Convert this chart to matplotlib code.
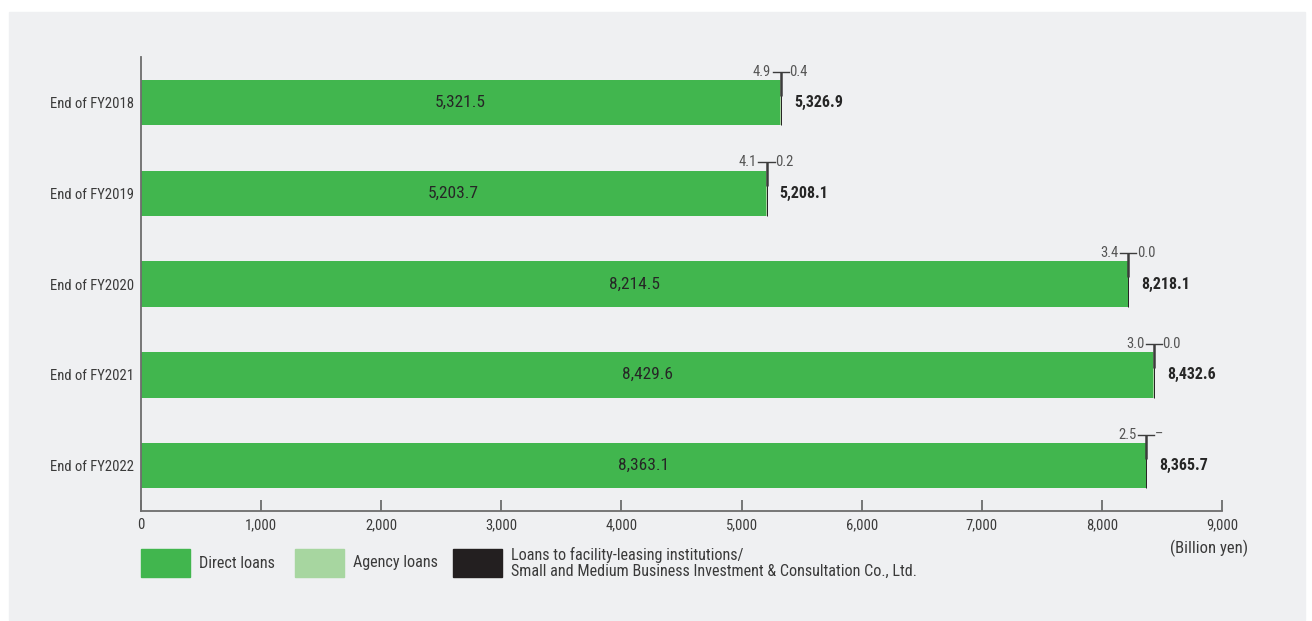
import matplotlib.pyplot as plt
from matplotlib.patches import Rectangle

# data (billion yen)
years = ['End of FY2018', 'End of FY2019', 'End of FY2020', 'End of FY2021', 'End of FY2022']
direct = [5321.5, 5203.7, 8214.5, 8429.6, 8363.1]
agency = [4.9, 4.1, 3.4, 3.0, 2.5]
facility = [0.4, 0.2, 0.0, 0.0, 0.0]
facility_lbl = ['0.4', '0.2', '0.0', '0.0', '\u2013']
totals = [5326.9, 5208.1, 8218.1, 8432.6, 8365.7]
xticks = [0, 1000, 2000, 3000, 4000, 5000, 6000, 7000, 8000, 9000]

GREEN = '#41b64e'
LIGHT = '#a7d6a0'
BLACK = '#231f20'
TXT = '#3a3a3a'
PANEL = '#eff0f2'

plt.rcParams['font.family'] = ['Roboto Condensed', 'Roboto', 'DejaVu Sans']

fig = plt.figure(figsize=(13.12, 6.21), dpi=100)
fig.patch.set_facecolor('white')
W, H = 1312, 621
fig.add_artist(Rectangle((9 / W, 1 - 620 / H), 1296 / W, 608 / H,
                         transform=fig.transFigure, color=PANEL, zorder=0))

ax = fig.add_axes([141 / W, 1 - 511 / H, 1081 / W, 454 / H])
ax.set_facecolor('none')

ypos = list(range(len(years)))
left2 = [d + a for d, a in zip(direct, agency)]
ax.barh(ypos, direct, height=0.5, color=GREEN, zorder=2)
ax.barh(ypos, agency, left=direct, height=0.5, color=LIGHT, zorder=2)
ax.barh(ypos, facility, left=left2, height=0.5, color=BLACK,
        edgecolor=BLACK, linewidth=0.7, zorder=3)

for i in ypos:
    # value inside bar
    ax.text(direct[i] / 2, i, f'{direct[i]:,.1f}', ha='center', va='center',
            fontsize=12.5, color='#262626', zorder=4)
    # total
    ax.text(totals[i] + 110, i, f'{totals[i]:,.1f}', ha='left', va='center',
            fontsize=11.5, fontweight='bold', color='#262626', zorder=4)
    # T-shaped leader
    xe = totals[i]
    ytop = i - 0.34
    ax.plot([xe, xe], [ytop, i - 0.075], color='#3c3c3c', lw=1.8, zorder=4,
            solid_capstyle='butt')
    ax.plot([xe - 68, xe + 68], [ytop, ytop], color='#3c3c3c', lw=1.0, zorder=4)
    ax.text(xe - 80, ytop, f'{agency[i]:.1f}', ha='right', va='center',
            fontsize=10.5, color='#555555', zorder=4)
    ax.text(xe + 72, ytop, facility_lbl[i], ha='left', va='center',
            fontsize=10.5, color='#555555', zorder=4)

ax.set_xlim(0, 9000)
ax.set_ylim(4.5, -0.5)
ax.set_yticks(ypos)
ax.set_yticklabels(years, fontsize=10.5, color=TXT)
ax.set_xticks(xticks)
ax.set_xticklabels([f'{v:,}' for v in xticks], fontsize=10.5, color=TXT)
ax.tick_params(axis='y', length=0, pad=5)
ax.tick_params(axis='x', direction='in', length=8, width=1.1, color='#555555', pad=5)
for s in ['top', 'right']:
    ax.spines[s].set_visible(False)
for s in ['left', 'bottom']:
    ax.spines[s].set_color('#6d6d6d')
    ax.spines[s].set_linewidth(1.3)

fig.text(1248 / W, 1 - 548 / H, '(Billion yen)', ha='right', va='center',
         fontsize=12, color=TXT)

# legend
leg = [(141, GREEN, 'Direct loans'), (295, LIGHT, 'Agency loans'),
       (453, BLACK, 'Loans to facility-leasing institutions/\nSmall and Medium Business Investment & Consultation Co., Ltd.')]
for x0, c, lbl in leg:
    fig.add_artist(Rectangle((x0 / W, 1 - 577 / H), 49 / W, 28 / H,
                             transform=fig.transFigure, color=c, zorder=1))
    fig.text((x0 + 58) / W, 1 - 563 / H, lbl, ha='left', va='center',
             fontsize=11.6, color=TXT, linespacing=1.05)

fig.savefig('out.png', dpi=100)
